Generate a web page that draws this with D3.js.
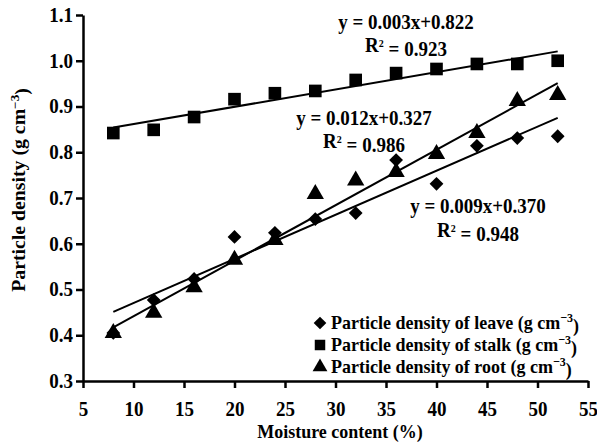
<!DOCTYPE html>
<html>
<head>
<meta charset="utf-8">
<script src="https://cdn.jsdelivr.net/npm/d3@7"></script>
<style>
  html, body { margin: 0; padding: 0; background: #fff; }
  svg { display: block; }
</style>
</head>
<body>
<svg id="chart" width="597" height="444" font-family="Liberation Serif" font-weight="bold"></svg>
<script>
// Moisture content (%) at which each sample was measured
const moisture = [8, 12, 16, 20, 24, 28, 32, 36, 40, 44, 48, 52];

// Particle density (g cm-3) per plant part
const leaveDensity = [0.405, 0.477, 0.523, 0.615, 0.624, 0.654, 0.667, 0.783, 0.731, 0.814, 0.831, 0.835];
const stalkDensity = [0.842, 0.849, 0.877, 0.916, 0.929, 0.934, 0.958, 0.973, 0.982, 0.993, 0.993, 1.000];
const rootDensity  = [0.405, 0.449, 0.505, 0.565, 0.608, 0.709, 0.738, 0.757, 0.796, 0.842, 0.912, 0.925];

// Fitted equations as printed next to each trend line
const stalkEquation = ["y = 0.003x+0.822", "0.923"];
const rootEquation  = ["y = 0.012x+0.327", "0.986"];
const leaveEquation = ["y = 0.009x+0.370", "0.948"];

const legendLabels = ["Particle density of leave", "Particle density of stalk", "Particle density of root"];
const xTicks = [5, 10, 15, 20, 25, 30, 35, 40, 45, 50, 55];
const yTicks = [0.3, 0.4, 0.5, 0.6, 0.7, 0.8, 0.9, 1.0, 1.1];

const FONT = "Liberation Serif";
const STRETCH = 1.1; // glyphs are drawn slightly taller than wide
const svg = d3.select("#chart");
const x = d3.scaleLinear().domain([5, 55]).range([83, 588]);
const y = d3.scaleLinear().domain([0.3, 1.1]).range([381, 15]);

// Text element placed at (px, py) with a vertical stretch about its baseline
function label(parent, px, py, size, anchor) {
  return parent.append("text")
    .attr("transform", `translate(${px},${py}) scale(1,${STRETCH})`)
    .attr("text-anchor", anchor || "start")
    .attr("font-family", FONT).attr("font-weight", "bold")
    .attr("font-size", size).attr("fill", "#000");
}

// Axes
const xAxis = svg.append("g").attr("transform", `translate(0,${y(0.3)})`)
  .call(d3.axisBottom(x).tickValues(xTicks).tickSize(7).tickSizeOuter(0).tickPadding(11).tickFormat(d3.format("d")));
const yAxis = svg.append("g").attr("transform", `translate(${x(5)},0)`)
  .call(d3.axisLeft(y).tickValues(yTicks).tickSize(7).tickSizeOuter(0).tickPadding(3).tickFormat(d3.format(".1f")));
[xAxis, yAxis].forEach(g => {
  g.attr("font-family", FONT).attr("font-size", 19).attr("font-weight", "bold");
  g.selectAll("path.domain").attr("stroke", "#000").attr("stroke-width", 2.5);
  g.selectAll(".tick line").attr("stroke", "#000").attr("stroke-width", 2.5);
  g.selectAll(".tick text").attr("fill", "#000").attr("transform", `scale(1,${STRETCH})`);
});
xAxis.selectAll(".tick text").attr("dy", "0.71em");
yAxis.selectAll(".tick text").attr("dy", "0.3em");

// Axis titles
label(svg, 340, 438, 18, "middle").text("Moisture content (%)");

const yTitle = svg.append("text")
  .attr("transform", `translate(25,190) rotate(-90) scale(${STRETCH},1)`)
  .attr("text-anchor", "middle")
  .attr("font-family", FONT).attr("font-weight", "bold").attr("font-size", 18).attr("fill", "#000");
yTitle.append("tspan").text("Particle density (g cm");
yTitle.append("tspan").attr("dy", "-0.5em").attr("font-size", 12).text("−3");
yTitle.append("tspan").attr("dy", "0.5em").text(")");

// Least-squares line through a series
function fit(xs, ys) {
  const mx = d3.mean(xs), my = d3.mean(ys);
  const sxy = d3.sum(xs, (v, i) => (v - mx) * (ys[i] - my));
  const sxx = d3.sum(xs, v => (v - mx) ** 2);
  const b = sxy / sxx;
  return { b, a: my - b * mx };
}

// Rotated square used as the diamond marker
const diamond = { draw(ctx, size) { const r = Math.sqrt(size / 2); ctx.moveTo(0, -r); ctx.lineTo(r, 0); ctx.lineTo(0, r); ctx.lineTo(-r, 0); ctx.closePath(); } };

const series = [
  { values: stalkDensity, shape: d3.symbolSquare, size: 160 },
  { values: rootDensity,  shape: d3.symbolTriangle, size: 130 },
  { values: leaveDensity, shape: diamond, size: 95 }
];

const line = d3.line().x(d => x(d[0])).y(d => y(d[1]));
const xMin = d3.min(moisture), xMax = d3.max(moisture);

series.forEach(s => {
  const { a, b } = fit(moisture, s.values);
  svg.append("path")
    .attr("d", line([[xMin, a + b * xMin], [xMax, a + b * xMax]]))
    .attr("stroke", "#000").attr("stroke-width", 2).attr("fill", "none");
});

series.forEach(s => {
  svg.append("g").selectAll("path")
    .data(moisture.map((m, i) => [m, s.values[i]]))
    .join("path")
    .attr("transform", d => `translate(${x(d[0])},${y(d[1])})`)
    .attr("d", d3.symbol().type(s.shape).size(s.size))
    .attr("fill", "#000");
});

// Equation labels
function equation(lines, cx, y1, y2) {
  label(svg, cx, y1, 19, "middle").text(lines[0]);
  const r = label(svg, cx, y2, 19, "middle");
  r.append("tspan").text("R");
  r.append("tspan").attr("dy", "-0.45em").attr("font-size", 10).text("2");
  r.append("tspan").attr("dy", "0.45em").text(" = " + lines[1]);
}
equation(stalkEquation, 406, 29, 52);
equation(rootEquation, 364, 125, 148);
equation(leaveEquation, 478, 213, 237);

// Legend
const legendShapes = [
  { shape: diamond, size: 80 },
  { shape: d3.symbolSquare, size: 110 },
  { shape: d3.symbolTriangle, size: 95 }
];
legendLabels.forEach((text, i) => {
  const cy = 323 + i * 22;
  svg.append("path").attr("transform", `translate(320,${cy})`)
    .attr("d", d3.symbol().type(legendShapes[i].shape).size(legendShapes[i].size))
    .attr("fill", "#000");
  const t = label(svg, 331, cy + 6, 18);
  t.append("tspan").text(text + " (g cm");
  t.append("tspan").attr("dy", "-0.5em").attr("font-size", 12).text("−3");
  t.append("tspan").attr("dy", "0.5em").text(")");
});
</script>
</body>
</html>
